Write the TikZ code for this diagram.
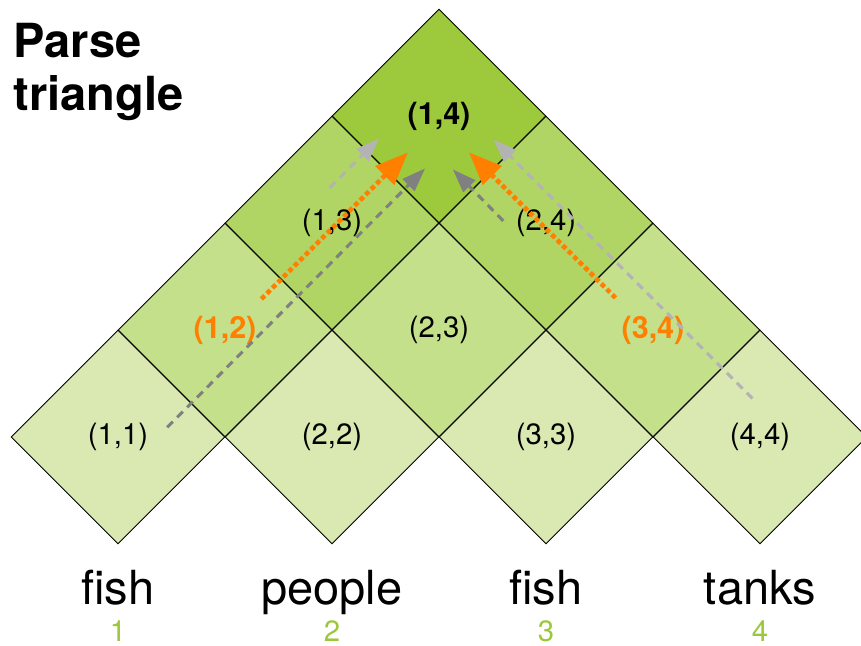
\documentclass[tikz,border=0pt]{standalone}
\usepackage{fontspec}
\setmainfont{TeX Gyre Heros}
\usetikzlibrary{shapes.geometric,arrows.meta}

\definecolor{rowone}{HTML}{D9E9B1}
\definecolor{rowtwo}{HTML}{C5E08B}
\definecolor{rowthree}{HTML}{B0D564}
\definecolor{rowfour}{HTML}{9DCA3C}
\definecolor{idxgreen}{HTML}{9BC83A}
\definecolor{spanorange}{HTML}{FF7F00}
\definecolor{darkgray}{HTML}{808080}
\definecolor{lightgray}{HTML}{B3B3B3}

\tikzset{
  cell/.style={diamond, draw=black, line width=0.4pt, aspect=1,
    minimum size=3.2cm, inner sep=0pt, font=\fontsize{12.5}{14}\selectfont},
  boldcell/.style={cell, font=\fontsize{13}{15}\selectfont\bfseries},
  word/.style={anchor=base, inner sep=0pt, font=\fontsize{20}{24}\selectfont},
  index/.style={anchor=base, inner sep=0pt, text=idxgreen, font=\fontsize{12.5}{14}\selectfont},
  heading/.style={anchor=base west, inner sep=0pt, font=\fontsize{20}{24}\selectfont\bfseries},
  darkarrow/.style={draw=darkgray, line width=1.3pt, dash pattern=on 3.4pt off 2.6pt,
    -{Triangle[length=10pt,width=7pt,fill=darkgray]}},
  lightarrow/.style={draw=lightgray, line width=1.3pt, dash pattern=on 3.4pt off 2.6pt,
    -{Triangle[length=10pt,width=7pt,fill=lightgray]}},
  orangearrow/.style={draw=spanorange, line width=2pt, dash pattern=on 2pt off 1.3pt,
    -{Triangle[length=14pt,width=11pt,fill=spanorange]}}
}

\begin{document}
\begin{tikzpicture}[x=1.6cm,y=1.6cm]
    \useasboundingbox (-1.103,-1.953) rectangle (6.944,4.084);

    % Title
    \node[heading] (ttlA) at (-0.981,3.551) {Parse};
    \node[heading] (ttlB) at (-0.981,3.056) {triangle};

    % Cells
    \node[cell, fill=rowone] (c11) at (0,0) {(1,1)};
    \node[cell, fill=rowone] (c22) at (2,0) {(2,2)};
    \node[cell, fill=rowone] (c33) at (4,0) {(3,3)};
    \node[cell, fill=rowone] (c44) at (6,0) {(4,4)};
    \node[boldcell, fill=rowtwo, text=spanorange] (c12) at (1,1) {(1,2)};
    \node[cell, fill=rowtwo] (c23) at (3,1) {(2,3)};
    \node[boldcell, fill=rowtwo, text=spanorange] (c34) at (5,1) {(3,4)};
    \node[cell, fill=rowthree] (c13) at (2,2) {(1,3)};
    \node[cell, fill=rowthree] (c24) at (4,2) {(2,4)};
    \node[boldcell, fill=rowfour] (c14) at (3,3) {(1,4)};

    % Words
    \node[word] (w1) at (0,-1.57) {fish};
    \node[word] (w2) at (2,-1.57) {people};
    \node[word] (w3) at (4,-1.57) {fish};
    \node[word] (w4) at (6,-1.57) {tanks};
    \node[index] (n1) at (0,-1.91) {1};
    \node[index] (n2) at (2,-1.91) {2};
    \node[index] (n3) at (4,-1.91) {3};
    \node[index] (n4) at (6,-1.91) {4};

    % Arrow ends
    \coordinate (s11) at (0.46,0.09);
    \coordinate (e11) at (2.87,2.51);
    \coordinate (s13) at (1.98,2.33);
    \coordinate (e13) at (2.44,2.79);
    \coordinate (s12) at (1.34,1.29);
    \coordinate (e12) at (2.71,2.66);
    \coordinate (s24) at (3.60,2.02);
    \coordinate (e24) at (3.13,2.50);
    \coordinate (s34) at (4.65,1.30);
    \coordinate (e34) at (3.28,2.66);
    \coordinate (s44) at (5.93,0.36);
    \coordinate (e44) at (3.51,2.78);

    % Arrows
    \draw[darkarrow] (s11) -- (e11);
    \draw[lightarrow] (s13) -- (e13);
    \draw[orangearrow] (s12) -- (e12);
    \draw[darkarrow] (s24) -- (e24);
    \draw[orangearrow] (s34) -- (e34);
    \draw[lightarrow] (s44) -- (e44);
\end{tikzpicture}
\end{document}
